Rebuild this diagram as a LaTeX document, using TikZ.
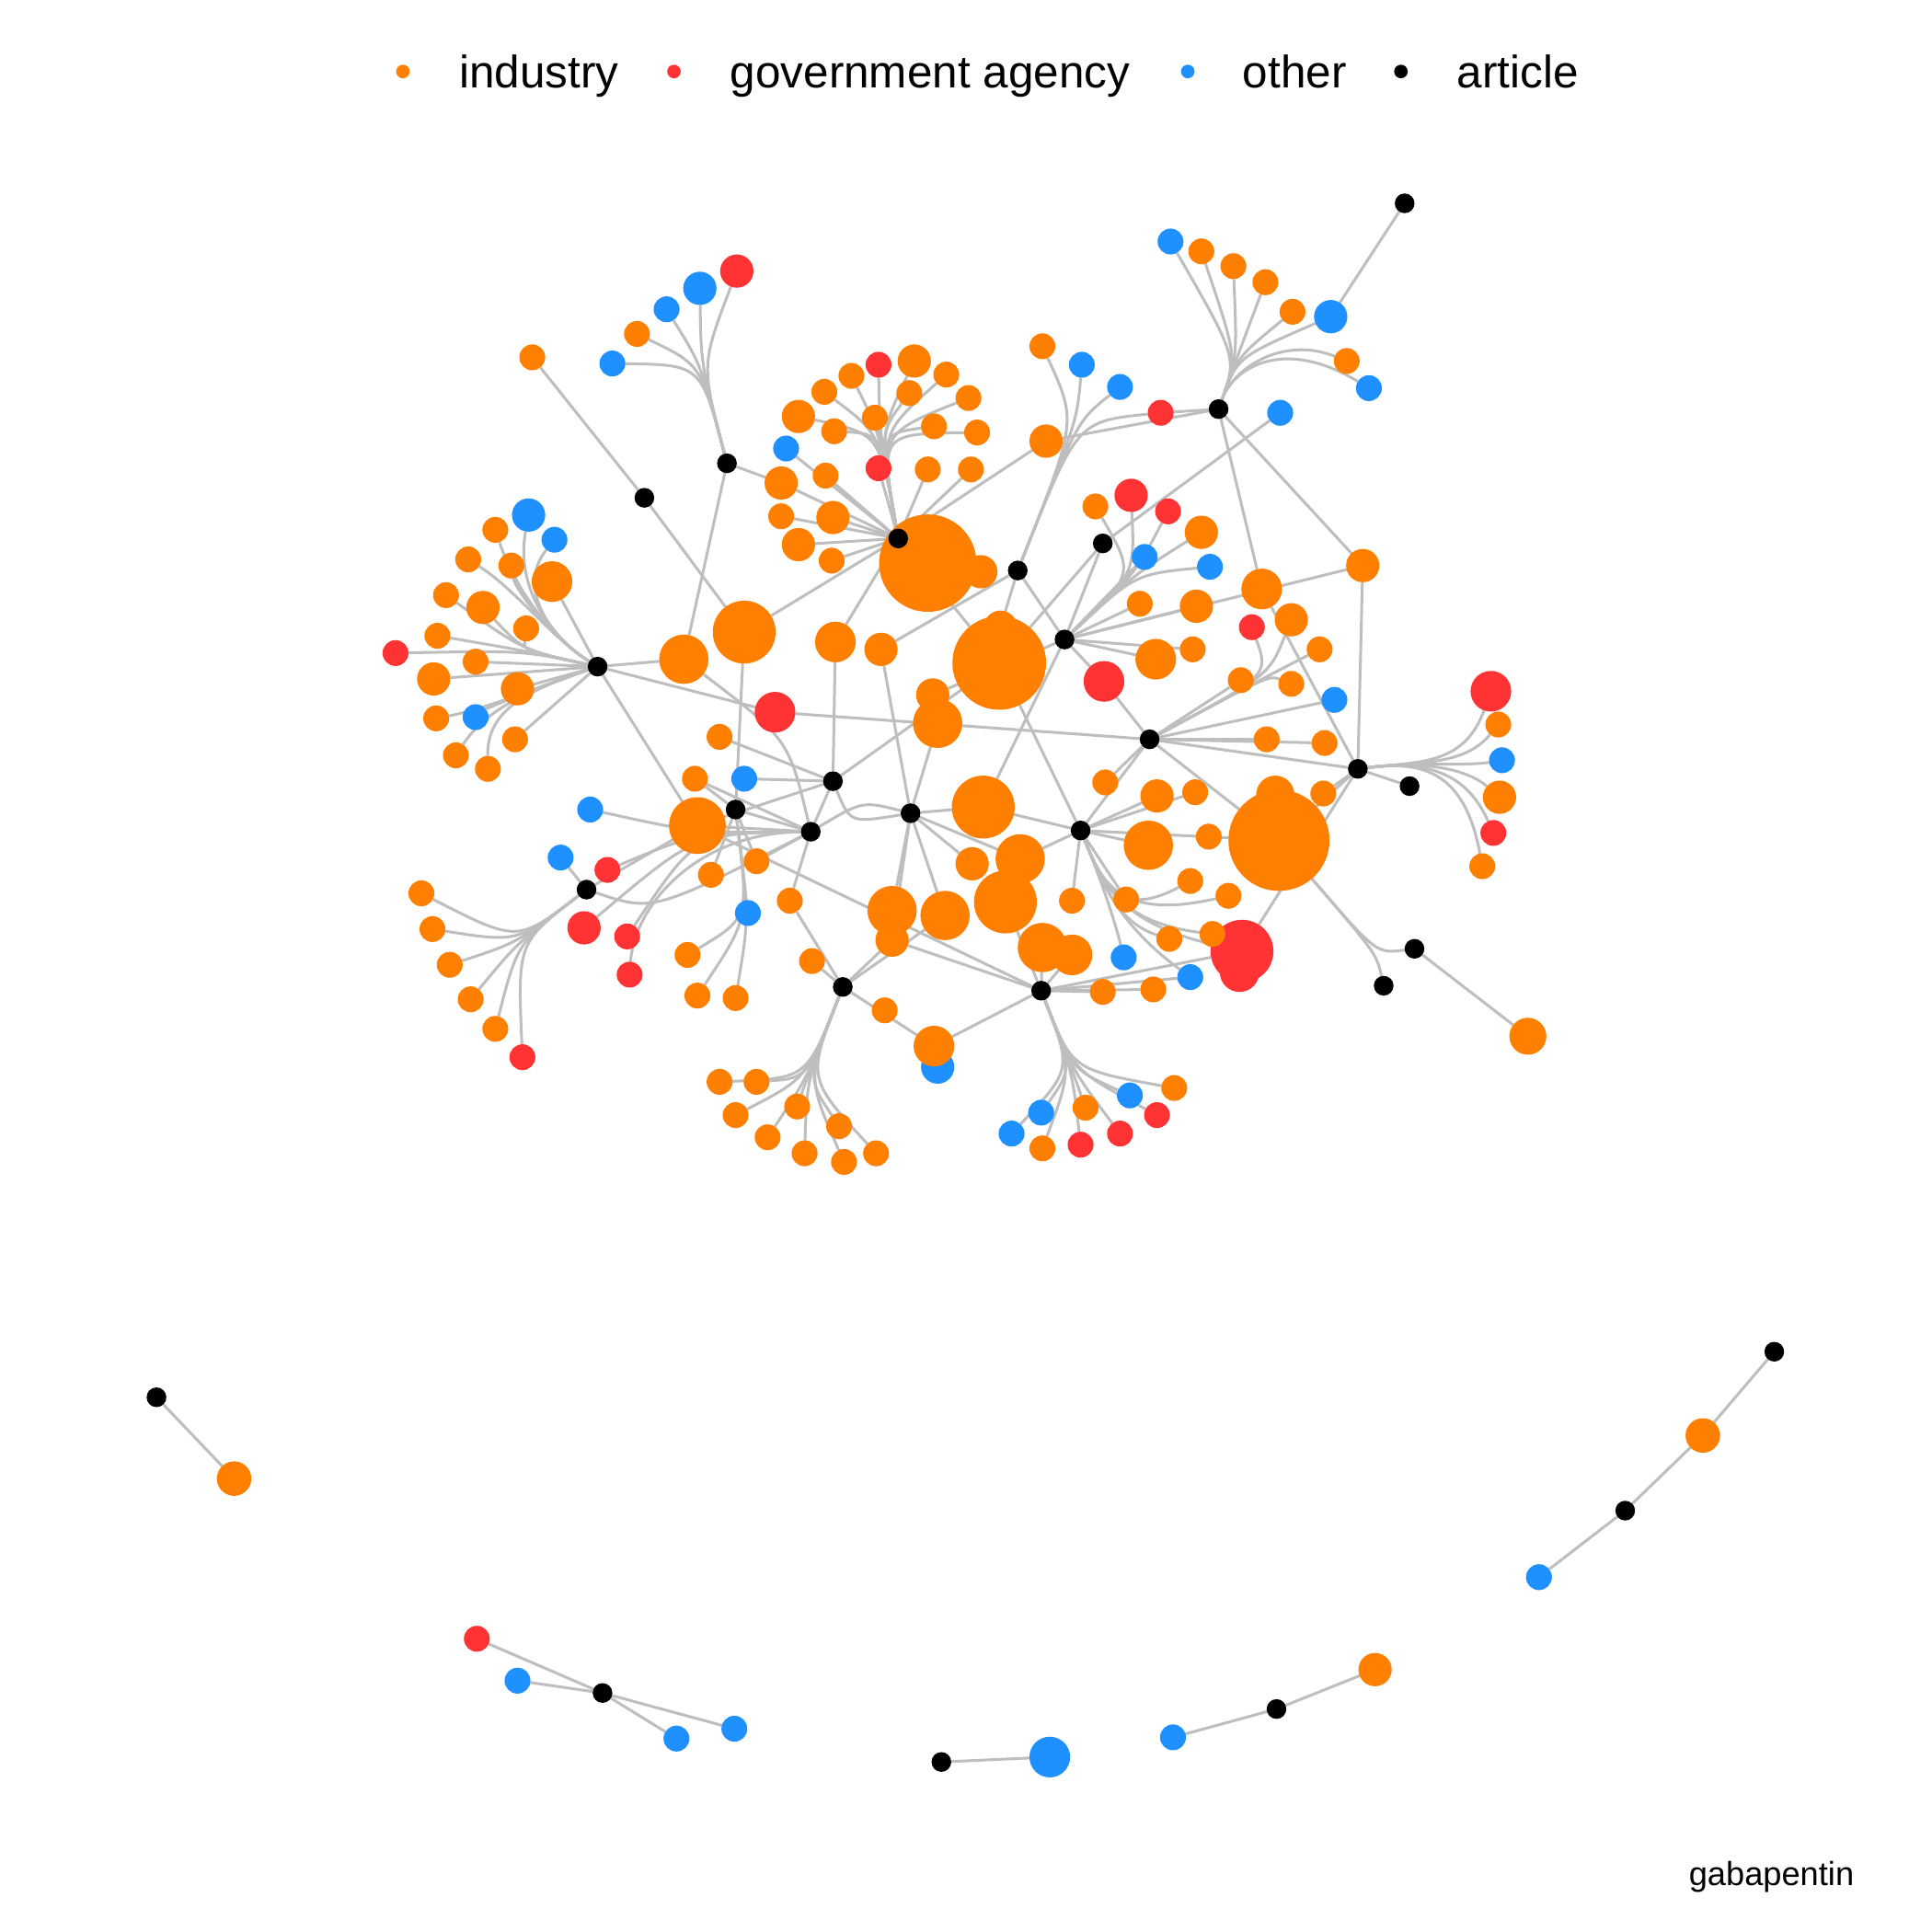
\documentclass[tikz,border=0pt]{standalone}
\usepackage{fontspec}
\setmainfont{Liberation Sans}
\pgfdeclarelayer{bg}
\pgfdeclarelayer{edges}
\pgfsetlayers{bg,edges,main}
\definecolor{cOr}{RGB}{255,127,0}
\definecolor{cRe}{RGB}{255,51,51}
\definecolor{cBl}{RGB}{30,144,255}
\definecolor{cEd}{RGB}{190,190,190}
\tikzset{
  nd/.style={circle,inner sep=0pt,outer sep=0pt,draw=none,minimum size={#1*0.2845pt}},
  ind/.style={nd=#1,fill=cOr}, ind/.default=21,
  gov/.style={nd=#1,fill=cRe}, gov/.default=21,
  oth/.style={nd=#1,fill=cBl}, oth/.default=21,
  art/.style={nd=16,fill=black},
  ed/.style={draw=cEd,line width=0.64pt},
  lgd/.style={nd=11},
  lgt/.style={anchor=base west,inner sep=0pt,font=\fontsize{10.5}{12}\selectfont},
}
\begin{document}
\begin{tikzpicture}[x=0.01cm,y=-0.01cm]
\begin{pgfonlayer}{bg}
\fill[white] (0,0) rectangle (1568,1568);
\end{pgfonlayer}
\useasboundingbox (0,0) rectangle (1568,1568);

% legend
\node[lgd,fill=cOr] (lg1) at (327,58) {};
\node[lgt] (lt1) at (372,71) {industry};
\node[lgd,fill=cRe] (lg2) at (547,58) {};
\node[lgt] (lt2) at (592,71) {government agency};
\node[lgd,fill=cBl] (lg3) at (964,58) {};
\node[lgt] (lt3) at (1008,71) {other};
\node[lgd,fill=black] (lg4) at (1137,58) {};
\node[lgt] (lt4) at (1182,71) {article};
\node[anchor=base west,inner sep=0pt,font=\fontsize{7.7}{9}\selectfont] (gab) at (1370,1530) {gabapentin};

% top-left cluster
\node[gov=27] (ta1) at (598,220) {};
\node[oth=27] (ta2) at (568,234) {};
\node[oth] (ta3) at (541,251) {};
\node[ind] (ta4) at (517,271) {};
\node[oth] (ta5) at (497,295) {};
\node[ind] (ta6) at (432,290) {};
% left cluster
\node[oth=27] (l1) at (429,418) {};
\node[oth] (l2) at (450,438) {};
\node[ind] (l3) at (402,430) {};
\node[ind] (l4) at (380,454) {};
\node[ind] (l5) at (415,459) {};
\node[ind=33] (l6) at (448,472) {};
\node[ind] (l7) at (362,483) {};
\node[ind=27] (l8) at (392,493) {};
\node[ind] (l9) at (427,510) {};
\node[ind] (l10) at (355,516) {};
\node[gov] (l11) at (321,530) {};
\node[ind] (l12) at (386,537) {};
\node[ind=27] (l13) at (352,551) {};
\node[ind=27] (l14) at (420,559) {};
\node[oth] (l15) at (386,582) {};
\node[ind] (l16) at (354,583) {};
\node[ind] (l17) at (418,600) {};
\node[ind] (l18) at (370,613) {};
\node[ind] (l19) at (396,624) {};
% top cluster
\node[gov] (t1) at (713,296) {};
\node[ind=27] (t2) at (742,293) {};
\node[ind] (t3) at (691,305) {};
\node[ind] (t4) at (768,304) {};
\node[ind] (t5) at (669,318) {};
\node[ind] (t6) at (738,319) {};
\node[ind] (t7) at (786,323) {};
\node[ind=27] (t8) at (648,338) {};
\node[ind] (t9) at (710,339) {};
\node[ind] (t10) at (677,350) {};
\node[ind] (t11) at (758,346) {};
\node[ind] (t12) at (793,351) {};
\node[oth] (t13) at (638,364) {};
\node[gov] (t14) at (713,380) {};
\node[ind] (t15) at (670,386) {};
\node[ind] (t16) at (753,381) {};
\node[ind] (t17) at (788,381) {};
\node[ind=27] (t18) at (634,392) {};
\node[ind] (t19) at (634,419) {};
\node[ind=27] (t20) at (676,420) {};
\node[ind=27] (t21) at (648,442) {};
\node[ind] (t22) at (675,455) {};
\node[ind=79] (B1) at (753,457) {};
\node[ind=27] (B1b) at (796,464) {};
% top-right fan of a5
\node[ind] (tr1) at (846,281) {};
\node[oth] (tr2) at (878,296) {};
\node[oth] (tr3) at (909,314) {};
\node[gov] (tr4) at (942,335) {};
\node[ind=27] (tr5) at (849,358) {};
% a8 cluster
\node[oth] (p1) at (950,196) {};
\node[ind] (p2) at (975,204) {};
\node[ind] (p3) at (1001,216) {};
\node[ind] (p4) at (1027,229) {};
\node[ind] (p5) at (1049,253) {};
\node[oth=27] (p6) at (1080,257) {};
\node[ind] (p7) at (1093,293) {};
\node[oth] (p8) at (1111,315) {};
\node[oth] (p9) at (1039,335) {};
\node[ind=27] (p10) at (1106,459) {};
\node[ind=33] (p11) at (1024,478) {};
% a6 cluster
\node[ind] (q1) at (889,411) {};
\node[gov=27] (q2) at (918,402) {};
\node[gov] (q3) at (948,415) {};
\node[oth] (q4) at (929,452) {};
\node[ind=27] (q5) at (975,432) {};
\node[oth] (q6) at (982,460) {};
\node[ind] (q7) at (925,490) {};
\node[ind=27] (q8) at (971,492) {};
\node[ind=33] (q9) at (938,535) {};
\node[ind] (q10) at (968,527) {};
\node[gov=33] (q11) at (896,553) {};
% a10 cluster
\node[gov] (s1) at (1016,509) {};
\node[ind=27] (s2) at (1048,503) {};
\node[ind] (s3) at (1071,527) {};
\node[ind] (s4) at (1007,552) {};
\node[ind] (s5) at (1048,555) {};
\node[oth] (s6) at (1083,568) {};
\node[ind] (s7) at (1028,600) {};
\node[ind] (s8) at (1075,603) {};
% a11 fan
\node[gov=33] (u1) at (1210,561) {};
\node[ind] (u2) at (1216,588) {};
\node[oth] (u3) at (1219,617) {};
\node[ind=27] (u4) at (1217,647) {};
\node[gov] (u5) at (1212,676) {};
\node[ind] (u6) at (1203,703) {};
% big orange right
\node[ind=31] (bo2) at (1035,645) {};
\node[ind=29] (bo3) at (1062,682) {};
\node[ind=82] (bo) at (1038,682) {};
% a17 fan
\node[ind] (v1) at (897,635) {};
\node[ind=27] (v2) at (939,646) {};
\node[ind] (v3) at (970,643) {};
\node[ind=40] (v4) at (932,686) {};
\node[ind] (v5) at (981,679) {};
\node[ind] (v6) at (966,715) {};
\node[ind] (v7) at (997,727) {};
\node[ind] (v8) at (1074,644) {};
\node[ind] (v9) at (949,762) {};
\node[gov=32] (v11b) at (1006,789) {};
\node[gov=51] (v11) at (1008,772) {};
\node[ind] (v10) at (984,758) {};
\node[oth] (v12) at (966,793) {};
\node[ind] (v13) at (936,803) {};
\node[ind] (v14) at (895,805) {};
\node[oth] (v15) at (912,777) {};
\node[ind] (v16) at (870,731) {};
\node[ind] (v17) at (914,730) {};
\node[ind=40] (v18) at (846,769) {};
\node[ind=33] (v19) at (870,775) {};
% centre
\node[ind=51] (c1) at (604,513) {};
\node[ind=40] (c2) at (555,535) {};
\node[ind=33] (c3) at (678,521) {};
\node[ind=27] (c4) at (715,527) {};
\node[ind=27] (cb2) at (812,509) {};
\node[ind=76] (cb) at (811,538) {};
\node[gov=33] (c5) at (629,578) {};
\node[ind=27] (c6) at (757,564) {};
\node[ind=40] (c7) at (761,587) {};
\node[ind] (c8) at (584,598) {};
\node[ind] (c9) at (564,632) {};
\node[oth] (c10) at (604,632) {};
\node[ind=46] (c11) at (566,670) {};
\node[ind=51] (c12) at (798,655) {};
\node[ind=27] (c13) at (789,701) {};
\node[ind=40] (c14) at (828,697) {};
\node[ind=51] (c15) at (816,732) {};
\node[ind=40] (c16) at (724,739) {};
\node[ind=27] (c17) at (724,763) {};
\node[ind=40] (c18) at (767,743) {};
\node[ind] (c19) at (659,780) {};
\node[ind] (c20) at (641,731) {};
\node[ind] (c21) at (718,820) {};
\node[oth=27] (c23) at (761,866) {};
\node[ind=33] (c22) at (758,849) {};
\node[ind] (c24) at (614,699) {};
\node[ind] (c25) at (577,710) {};
\node[oth] (c26) at (607,741) {};
\node[ind] (c27) at (558,775) {};
\node[ind] (c28) at (566,808) {};
\node[ind] (c29) at (597,810) {};
% lower left
\node[oth] (w1) at (479,657) {};
\node[oth] (w2) at (455,696) {};
\node[gov] (w3) at (493,706) {};
\node[gov=27] (w4) at (474,753) {};
\node[gov] (w5) at (509,760) {};
\node[gov] (w6) at (511,791) {};
\node[ind] (x1) at (342,725) {};
\node[ind] (x2) at (351,754) {};
\node[ind] (x3) at (365,783) {};
\node[ind] (x4) at (382,811) {};
\node[ind] (x5) at (402,835) {};
\node[gov] (x6) at (424,858) {};
% bottom-left cluster
\node[ind] (y1) at (584,878) {};
\node[ind] (y2) at (614,878) {};
\node[ind] (y3) at (597,905) {};
\node[ind] (y4) at (647,898) {};
\node[ind] (y5) at (623,923) {};
\node[ind] (y6) at (681,914) {};
\node[ind] (y7) at (653,936) {};
\node[ind] (y8) at (685,943) {};
\node[ind] (y9) at (711,936) {};
% bottom-right cluster
\node[oth] (z1) at (845,903) {};
\node[oth] (z2) at (821,920) {};
\node[ind] (z3) at (846,932) {};
\node[ind] (z4) at (881,899) {};
\node[gov] (z5) at (877,929) {};
\node[gov] (z6) at (909,920) {};
\node[oth] (z7) at (917,889) {};
\node[ind] (z8) at (953,883) {};
\node[gov] (z9) at (939,905) {};
\node[ind=30] (rr1) at (1240,841) {};
% separate components
\node[ind=28] (b1) at (190,1200) {};
\node[ind=28] (b2) at (1382,1165) {};
\node[oth] (b3) at (1249,1280) {};
\node[gov] (b4) at (387,1330) {};
\node[oth] (b5) at (420,1364) {};
\node[oth] (b6) at (549,1411) {};
\node[oth] (b7) at (596,1403) {};
\node[oth=33] (b8) at (852,1426) {};
\node[oth] (b9) at (952,1410) {};
\node[ind=27] (b10) at (1116,1355) {};

% articles
\node[art] (a1) at (729,437) {};
\node[art] (a2) at (590,376) {};
\node[art] (a3) at (523,404) {};
\node[art] (a4) at (485,541) {};
\node[art] (a5) at (826,463) {};
\node[art] (a6) at (864,519) {};
\node[art] (a7) at (895,441) {};
\node[art] (a8) at (989,332) {};
\node[art] (a9) at (1140,165) {};
\node[art] (a10) at (933,600) {};
\node[art] (a11) at (1102,624) {};
\node[art] (a12) at (1144,638) {};
\node[art] (a13) at (676,634) {};
\node[art] (a14) at (597,657) {};
\node[art] (a15) at (658,675) {};
\node[art] (a16) at (739,660) {};
\node[art] (a17) at (877,674) {};
\node[art] (a18) at (476,722) {};
\node[art] (a19) at (684,801) {};
\node[art] (a20) at (845,804) {};
\node[art] (a21) at (1148,770) {};
\node[art] (a22) at (1123,800) {};
\node[art] (a23) at (127,1134) {};
\node[art] (a24) at (1440,1097) {};
\node[art] (a25) at (1319,1226) {};
\node[art] (a26) at (489,1374) {};
\node[art] (a27) at (764,1430) {};
\node[art] (a28) at (1036,1387) {};

\begin{pgfonlayer}{edges}
% a2, a3
\foreach \n in {ta1,ta2,ta3,ta4,ta5} \draw[ed] (a2) .. controls (569,296) .. (\n);
\draw[ed] (a2) -- (t18);
\draw[ed] (a2) -- (c2);
\draw[ed] (a3) -- (ta6);
\draw[ed] (a3) -- (c1);
% a4
\foreach \n in {l1,l2,l3,l4,l5} \draw[ed] (a4) .. controls (448,518) and (418,478) .. (\n);
\foreach \n in {l7,l8,l9,l10,l11} \draw[ed] (a4) .. controls (425,528) .. (\n);
\foreach \n in {l15,l16,l18,l19} \draw[ed] (a4) .. controls (430,560) and (395,575) .. (\n);
\foreach \n in {l6,l12,l13,l14,l17,c2,c5,c11} \draw[ed] (a4) -- (\n);
% a1
\foreach \n in {t1,t2,t3,t4,t5,t6,t7,t8,t9,t10,t11,t12} \draw[ed] (a1) .. controls (714,352) .. (\n);
\foreach \n in {t13,t14,t15,t16,t17,t18,t19,t20,t21,t22,c1,tr5,c3,cb,B1} \draw[ed] (a1) -- (\n);
% a5
\foreach \n in {tr1,tr2,tr3,tr4} \draw[ed] (a5) .. controls (874,342) .. (\n);
\foreach \n in {cb2,c4,a6} \draw[ed] (a5) -- (\n);
% a8
\foreach \n in {p1,p2,p3,p4,p5,p6} \draw[ed] (a8) .. controls (1004,290) .. (\n);
\foreach \n in {p7,p8} \draw[ed] (a8) .. controls (1000,300) and (1040,272) .. (\n);
\draw[ed] (a9) -- (p6);
\foreach \n in {tr4,tr5,p10,p11} \draw[ed] (a8) -- (\n);
% a7
\foreach \n in {p9,a6,cb} \draw[ed] (a7) -- (\n);
% a6
\foreach \n in {q1,q2,q3,q5,q6} \draw[ed] (a6) .. controls (921,466) .. (\n);
\foreach \n in {q4,q7,q8,q9,q10,q11,c12,c6,p10} \draw[ed] (a6) -- (\n);
\draw[ed] (q11) -- (a10);
% a10
\foreach \n in {s1,s2,s3,s5} \draw[ed] (a10) .. controls (1030,548) .. (\n);
\foreach \n in {s4,s6,s7,s8,a11,bo,a17,c5,v1} \draw[ed] (a10) -- (\n);
% a11
\foreach \n in {u1,u2,u3,u4,u5,u6} \draw[ed] (a11) .. controls (1150,618) and (1188,622) .. (\n);
\foreach \n in {p10,p11,a12,bo,v11,v8} \draw[ed] (a11) -- (\n);
% bo
\draw[ed] (bo) .. controls (1117,774) .. (a21);
\draw[ed] (bo) .. controls (1117,774) .. (a22);
\draw[ed] (a21) -- (rr1);
% a17
\foreach \n in {v6,v7,v9,v10,v11,v12,v15} \draw[ed] (a17) .. controls (893,712) and (905,748) .. (\n);
\foreach \n in {v2,v3,v4,v16,v17,bo,cb,c12,c14} \draw[ed] (a17) -- (\n);
% a13
\foreach \n in {c3,c8,c10,c11,cb,a15} \draw[ed] (a13) -- (\n);
\draw[ed] (a13) .. controls (690,668) .. (a16);
% a14
\foreach \n in {c1,c9,c24,c25,c26,a15} \draw[ed] (a14) -- (\n);
\foreach \n in {c27,c28,c29} \draw[ed] (a14) .. controls (608,745) .. (\n);
% a15
\foreach \n in {c11,c9,c24,c20} \draw[ed] (a15) -- (\n);
\draw[ed] (a15) .. controls (640,600) .. (c2);
\foreach \n in {w1,w3,w4,w5} \draw[ed] (a15) .. controls (565,676) .. (\n);
\draw[ed] (a15) .. controls (565,676) and (515,735) .. (w6);
\draw[ed] (a15) .. controls (700,650) .. (a16);
% a16
\foreach \n in {c4,c7,c12,c13,c14,c16,c17,c18} \draw[ed] (a16) -- (\n);
% a18
\foreach \n in {x1,x2,x3,x4,x5,x6} \draw[ed] (a18) .. controls (420,765) .. (\n);
\foreach \n in {w2,c11} \draw[ed] (a18) -- (\n);
\draw[ed] (a18) .. controls (530,740) .. (a15);
% a19
\foreach \n in {y1,y2,y3,y4,y5,y6,y7,y8,y9} \draw[ed] (a19) .. controls (655,875) .. (\n);
\foreach \n in {c19,c20,c17,c18,c22} \draw[ed] (a19) -- (\n);
% a20
\foreach \n in {z1,z2,z3,z4,z5,z6,z7,z8,z9} \draw[ed] (a20) .. controls (870,868) .. (\n);
\foreach \n in {c11,c15,c22,c17,v18,v19,v14,v13,v12,v11} \draw[ed] (a20) -- (\n);
% separate components
\draw[ed] (a23) -- (b1);
\draw[ed] (a24) -- (b2);
\draw[ed] (a25) -- (b2);
\draw[ed] (a25) -- (b3);
\foreach \n in {b4,b5,b6,b7} \draw[ed] (a26) -- (\n);
\draw[ed] (a27) -- (b8);
\draw[ed] (a28) -- (b9);
\draw[ed] (a28) -- (b10);
\end{pgfonlayer}
\end{tikzpicture}
\end{document}
